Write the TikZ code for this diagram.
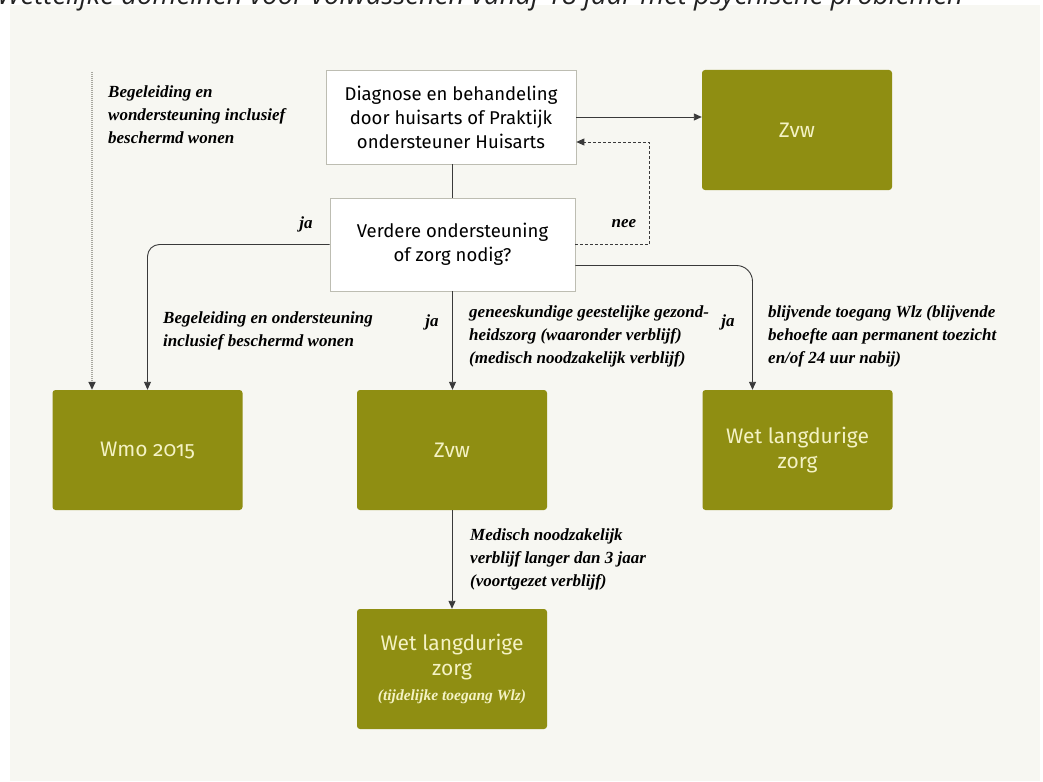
\documentclass[tikz,border=0pt]{standalone}
\usepackage{fontspec}
\setmainfont{Liberation Serif}
\setsansfont{Fira Sans}[Numbers=OldStyle]
\newfontfamily\titelfont{Open Sans}
\usetikzlibrary{arrows.meta}

\definecolor{rijksolive}{HTML}{8F8E12}
\definecolor{bloktekst}{HTML}{F4F2C4}
\definecolor{paneel}{HTML}{F7F7F2}
\definecolor{lijngrijs}{HTML}{3A3A3A}
\definecolor{randgrijs}{HTML}{BDBDB2}
\definecolor{stipgrijs}{HTML}{A8A8A0}
\definecolor{titelgrijs}{HTML}{222222}

\begin{document}
\begin{tikzpicture}[x=1pt,y=-1pt,
  lijn/.style={draw=lijngrijs,line width=0.9pt},
  pijl/.style={lijn,-{Triangle[length=8pt,width=7pt,color=lijngrijs]}},
  wit/.style={draw=randgrijs,fill=white,line width=0.7pt,inner sep=0pt,align=center,
    font=\sffamily\fontsize{18.5}{24}\selectfont},
  blok/.style={fill=rijksolive,text=bloktekst,rounded corners=3pt,inner sep=0pt,align=center,
    minimum width=190pt,minimum height=120pt,font=\sffamily\fontsize{21}{25}\selectfont},
  uitleg/.style={anchor=north west,inner sep=0pt,align=left,
    font=\bfseries\itshape\fontsize{17}{23}\selectfont},
  antw/.style={inner sep=0pt,font=\bfseries\itshape\fontsize{17}{17}\selectfont}]
\useasboundingbox (0,0) rectangle (1043,781);
\fill[white] (0,0) rectangle (1043,781);
\fill[paneel] (10,5.5) rectangle (1040,781);
% titel, bovenaan afgesneden
\node[anchor=base west,inner sep=0pt,text=titelgrijs,font=\titelfont\itshape\fontsize{27.5}{28}\selectfont]
  (titel) at (-3,4.5) {Wettelijke domeinen voor volwassenen vanaf 18 jaar met psychische problemen};

\node[wit,minimum width=250pt,minimum height=94pt] (diagnose) at (451,117)
  {Diagnose en behandeling\\door huisarts of Praktijk\\ondersteuner Huisarts};
\node[wit,minimum width=245pt,minimum height=93pt] (vraag) at (452.5,244.5)
  {Verdere ondersteuning\\of zorg nodig?};
\node[blok] (zvwboven) at (797,130) {Zvw};
\node[blok] (wmo) at (147.5,450) {Wmo 2015};
\node[blok] (zvw) at (452,450) {Zvw};
\node[blok] (wlz) at (797.5,450) {Wet langdurige\\zorg};
\node[blok] (wlztijd) at (452,669)
  {Wet langdurige\\zorg\\{\rmfamily\bfseries\itshape\fontsize{15.5}{18}\selectfont (tijdelijke toegang Wlz)}};

\coordinate (stip) at (92,72);
\draw[pijl,draw=stipgrijs,line width=1.6pt,dash pattern=on 1pt off 1pt] (stip) -- (stip |- wmo.north);
\draw[lijn] (vraag.north) -- (vraag.north |- diagnose.south);
\draw[pijl] (diagnose.east) -- (diagnose.east -| zvwboven.west);
\draw[pijl,dash pattern=on 3pt off 2pt] (vraag.east) -- ++(74,0) |- ([yshift=-25pt]diagnose.east);
\draw[pijl,rounded corners=12pt] (vraag.west) -| (wmo.north);
\draw[pijl] (vraag.south) -- (vraag.south |- zvw.north);
\draw[pijl,rounded corners=16pt] ([yshift=-21pt]vraag.east) -| ([xshift=-45pt]wlz.north);
\draw[pijl] (zvw.south) -- (wlztijd.north);

% uitleg bij de pijlen
\node[uitleg] (tekstwmo) at (108,86) {Begeleiding en\\wondersteuning inclusief\\beschermd wonen};
\node[antw] (jalinks) at (306,224) {ja};
\node[antw] (nee) at (624,224) {nee};
\node[uitleg] (tekstbeg) at (163,312) {Begeleiding en ondersteuning\\inclusief beschermd wonen};
\node[antw] (jamidden) at (432,322) {ja};
\node[uitleg] (tekstggz) at (469,306)
  {geneeskundige geestelijke gezond-\\heidszorg (waaronder verblijf)\\(medisch noodzakelijk verblijf)};
\node[antw] (jarechts) at (728,322) {ja};
\node[uitleg] (tekstwlz) at (768,306)
  {blijvende toegang Wlz (blijvende\\behoefte aan permanent toezicht\\en/of 24 uur nabij)};
\node[uitleg] (tekstverblijf) at (470,528)
  {Medisch noodzakelijk\\verblijf langer dan 3 jaar\\(voortgezet verblijf)};
\end{tikzpicture}
\end{document}
